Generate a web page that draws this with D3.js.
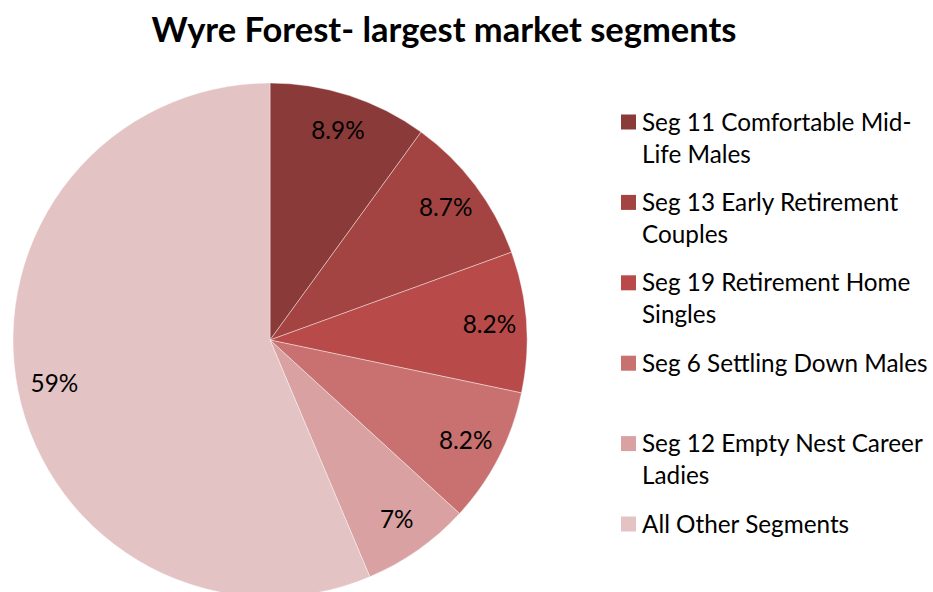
<!DOCTYPE html>
<html>
<head>
<meta charset="utf-8">
<script src="https://cdn.jsdelivr.net/npm/d3@7"></script>
<style>
  body { margin: 0; background: #fff; }
  svg text { font-family: Lato, "Open Sans", sans-serif; }
</style>
</head>
<body>
<svg id="chart" width="933" height="592"></svg>
<script>
// segment names (legend lines, wrapped as in the original)
const segments = [
  ["Seg 11 Comfortable Mid-", "Life Males"],
  ["Seg 13 Early Retirement", "Couples"],
  ["Seg 19 Retirement Home", "Singles"],
  ["Seg 6 Settling Down Males"],
  ["Seg 12 Empty Nest Career", "Ladies"],
  ["All Other Segments"]
];
// slice sizes as drawn in the picture (share of circle)
const shares = [10.0, 9.45, 8.85, 8.5, 6.85, 56.35];
// the data labels printed on the slices
const labels = ["8.9%", "8.7%", "8.2%", "8.2%", "7%", "59%"];
const colors = ["#8B3A3A", "#A44442", "#B84B49", "#C87170", "#D9A1A1", "#E3C3C4"];

const svg = d3.select("#chart");
const cx = 270, cy = 340, radius = 257;

svg.append("text")
  .attr("x", 444)
  .attr("y", 42)
  .attr("text-anchor", "middle")
  .style("font-size", "34.5px")
  .style("font-weight", "bold")
  .text("Wyre Forest- largest market segments");

const pie = d3.pie().sort(null).value(d => d);
const arcs = pie(shares);
const arc = d3.arc().innerRadius(0).outerRadius(radius);
const labelArc = d3.arc().innerRadius(220).outerRadius(220);

const g = svg.append("g").attr("transform", "translate(" + cx + "," + cy + ")");

g.selectAll("path")
  .data(arcs)
  .enter()
  .append("path")
  .attr("d", arc)
  .attr("fill", (d, i) => colors[i])
  .attr("stroke", "#fff")
  .attr("stroke-opacity", 0.5)
  .attr("stroke-width", 0.8);

g.selectAll("text.lbl")
  .data(arcs)
  .enter()
  .append("text")
  .attr("class", "lbl")
  .attr("transform", d => "translate(" + labelArc.centroid(d) + ")")
  .attr("text-anchor", "middle")
  .attr("dy", "0.35em")
  .style("font-size", "24.3px")
  .style("fill", "#000")
  .text((d, i) => labels[i]);

// legend
const legendY = d3.scaleLinear().domain([0, segments.length - 1]).range([122, 524]);
const legend = svg.append("g");
segments.forEach((lines, i) => {
  const y = legendY(i);
  legend.append("rect")
    .attr("x", 621)
    .attr("y", y - 7.5)
    .attr("width", 15)
    .attr("height", 15)
    .attr("fill", colors[i]);
  lines.forEach((t, j) => {
    legend.append("text")
      .attr("x", 642)
      .attr("y", y + j * 32)
      .attr("dy", "0.35em")
      .style("font-size", "24.3px")
      .style("fill", "#000")
      .text(t);
  });
});
</script>
</body>
</html>
